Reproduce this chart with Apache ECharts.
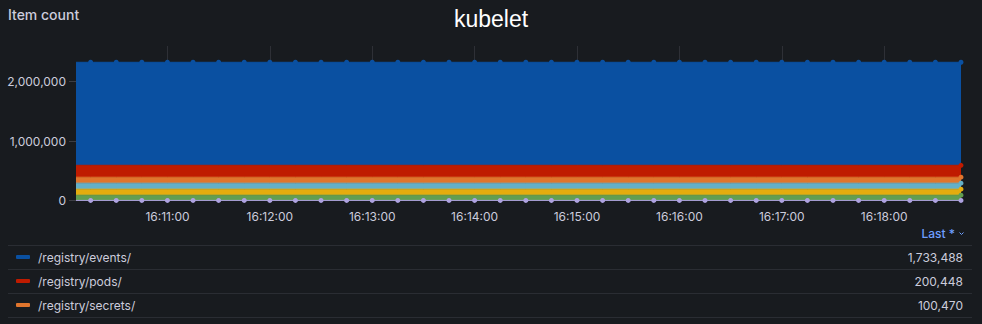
<!DOCTYPE html>
<html>
<head>
<meta charset="utf-8">
<script src="https://cdn.jsdelivr.net/npm/echarts@6/dist/echarts.min.js"></script>
<style>
  html, body { margin: 0; padding: 0; background: #181b1f; }
  #chart { width: 982px; height: 324px; }
</style>
</head>
<body>
<div id="chart"></div>
<script>
// ---- data ----
const DAY = '2024-01-01 ';
const times = ['16:10:00','16:10:15','16:10:30','16:10:45','16:11:00','16:11:15','16:11:30','16:11:45',
  '16:12:00','16:12:15','16:12:30','16:12:45','16:13:00','16:13:15','16:13:30','16:13:45',
  '16:14:00','16:14:15','16:14:30','16:14:45','16:15:00','16:15:15','16:15:30','16:15:45',
  '16:16:00','16:16:15','16:16:30','16:16:45','16:17:00','16:17:15','16:17:30','16:17:45',
  '16:18:00','16:18:15','16:18:30','16:18:45'];
const minuteTicks = ['16:11:00','16:12:00','16:13:00','16:14:00','16:15:00','16:16:00','16:17:00','16:18:00'];

const seriesNames = ['other-a', 'other-b', 'other-c', 'other-d', '/registry/secrets/', '/registry/pods/', '/registry/events/'];
const seriesColors = ['#AEA2E0', '#629E51', '#E5AC0E', '#64B0C8', '#E0752D', '#BF1B00', '#0A50A1'];

const otherA = [1500,1500,1500,1500,1500,1500,1500,1500,1500,1500,1500,1500,1500,1500,1500,1500,1500,1500,
  1500,1500,1500,1500,1500,1500,1500,1500,1500,1500,1500,1500,1500,1500,1500,1500,1500,1500];
const otherB = [88000,88000,88000,88000,88000,88000,88000,88000,88000,88000,88000,88000,88000,88000,88000,88000,88000,88000,
  88000,88000,88000,88000,88000,88000,88000,88000,88000,88000,88000,88000,88000,88000,88000,88000,88000,88000];
const otherC = [101000,101000,101000,101000,101000,101000,101000,101000,101000,101000,101000,101000,101000,101000,101000,101000,101000,101000,
  101000,101000,101000,101000,101000,101000,101000,101000,101000,101000,101000,101000,101000,101000,101000,101000,101000,101000];
const otherD = [101000,101000,101000,101000,101000,101000,101000,101000,101000,101000,101000,101000,101000,101000,101000,101000,101000,101000,
  101000,101000,101000,101000,101000,101000,101000,101000,101000,101000,101000,101000,101000,101000,101000,101000,101000,101000];
const secrets = [100470,100470,100470,100470,100470,100470,100470,100470,100470,100470,100470,100470,100470,100470,100470,100470,100470,100470,
  100470,100470,100470,100470,100470,100470,100470,100470,100470,100470,100470,100470,100470,100470,100470,100470,100470,100470];
const pods = [200448,200448,200448,200448,200448,200448,200448,200448,200448,200448,200448,200448,200448,200448,200448,200448,200448,200448,
  200448,200448,200448,200448,200448,200448,200448,200448,200448,200448,200448,200448,200448,200448,200448,200448,200448,200448];
const events = [1733488,1733488,1733488,1733488,1733488,1733488,1733488,1733488,1733488,1733488,1733488,1733488,1733488,1733488,1733488,1733488,1733488,1733488,
  1733488,1733488,1733488,1733488,1733488,1733488,1733488,1733488,1733488,1733488,1733488,1733488,1733488,1733488,1733488,1733488,1733488,1733488];

const seriesValues = [otherA, otherB, otherC, otherD, secrets, pods, events];
const legendNames = ['/registry/events/', '/registry/pods/', '/registry/secrets/'];
const yTicks = [0, 1000000, 2000000];

// ---- chart ----
const chart = echarts.init(document.getElementById('chart'), null, { renderer: 'svg' });
const fmt = v => Number(v).toLocaleString('en-US');
const lastOf = name => { const i = seriesNames.indexOf(name); const a = seriesValues[i]; return a[a.length - 1]; };
const FONT = 'Inter, "Noto Sans", sans-serif';

const series = seriesValues.map((vals, si) => {
  const allDots = si === 0 || si === seriesValues.length - 1;
  return {
    name: seriesNames[si],
    type: 'line',
    stack: 'total',
    z: 3,
    symbol: 'circle',
    symbolSize: 5,
    showAllSymbol: true,
    color: seriesColors[si],
    itemStyle: { color: seriesColors[si] },
    lineStyle: { width: 1, color: seriesColors[si] },
    areaStyle: { color: seriesColors[si], opacity: 1 },
    emphasis: { disabled: true },
    silent: true,
    data: vals.map((v, i) => ({
      value: [DAY + times[i], v],
      symbol: (allDots || i === vals.length - 1) ? 'circle' : 'none'
    }))
  };
});

// minute grid lines, drawn beneath the areas
series.unshift({
  name: 'grid-minutes',
  type: 'line',
  z: 1,
  silent: true,
  data: [],
  markLine: {
    z: 1,
    silent: true,
    symbol: ['none', 'none'],
    label: { show: false },
    lineStyle: { color: 'rgba(204,204,220,0.12)', width: 1, type: 'solid' },
    data: minuteTicks.map(t => ({ xAxis: DAY + t }))
  }
});

chart.setOption({
  backgroundColor: '#181b1f',
  animation: false,
  title: [
    { text: 'Item count', left: 8, top: 7, padding: 0, textStyle: { fontSize: 14, fontWeight: 500, color: '#ccccdc', fontFamily: FONT } },
    { text: 'kubelet', left: 'center', top: 7, padding: 0, textStyle: { fontSize: 23, fontWeight: 'normal', color: '#ffffff', fontFamily: '"Liberation Sans", Arial, sans-serif' } }
  ],
  grid: { left: 77, right: 21, top: 46, bottom: 123.5, containLabel: false },
  xAxis: {
    type: 'time',
    min: DAY + '16:10:07.5',
    max: DAY + times[times.length - 1],
    minInterval: 60000,
    maxInterval: 60000,
    axisLine: { show: false },
    axisTick: { show: false },
    splitLine: { show: false },
    axisLabel: {
      color: '#ccccdc', fontSize: 12, fontFamily: FONT, margin: 10,
      showMinLabel: false, showMaxLabel: false,
      formatter: '{HH}:{mm}:{ss}'
    }
  },
  yAxis: {
    type: 'value',
    min: yTicks[0],
    max: 2600000,
    interval: yTicks[1] - yTicks[0],
    axisLine: { show: false },
    axisTick: { show: true, length: 8, lineStyle: { color: 'rgba(204,204,220,0.2)' } },
    splitLine: { show: false },
    axisLabel: {
      color: '#ccccdc', fontSize: 12, fontFamily: FONT, margin: 11,
      showMaxLabel: false,
      formatter: v => fmt(v)
    }
  },
  legend: {
    data: legendNames,
    orient: 'vertical',
    left: 16,
    top: 251,
    padding: 0,
    itemWidth: 14,
    itemHeight: 4,
    itemGap: 12,
    icon: 'roundRect',
    selectedMode: false,
    formatter: name => `{n|${name}}{v|${fmt(lastOf(name))}}`,
    textStyle: {
      color: '#ccccdc', fontFamily: FONT, fontSize: 12,
      rich: {
        n: { width: 860, color: '#ccccdc', fontSize: 12, fontFamily: FONT, lineHeight: 14, padding: [0, 0, 0, 3] },
        v: { width: 65, align: 'right', color: '#ccccdc', fontSize: 12, fontFamily: FONT, lineHeight: 14 }
      }
    }
  },
  graphic: [
    { type: 'line', shape: { x1: 8, y1: 245.5, x2: 972, y2: 245.5 }, style: { stroke: '#2a2d33', lineWidth: 1 }, silent: true },
    { type: 'line', shape: { x1: 8, y1: 269.5, x2: 972, y2: 269.5 }, style: { stroke: '#2a2d33', lineWidth: 1 }, silent: true },
    { type: 'line', shape: { x1: 8, y1: 293.5, x2: 972, y2: 293.5 }, style: { stroke: '#2a2d33', lineWidth: 1 }, silent: true },
    { type: 'line', shape: { x1: 8, y1: 317.5, x2: 972, y2: 317.5 }, style: { stroke: '#2a2d33', lineWidth: 1 }, silent: true },
    { type: 'text', x: 955, y: 233, silent: true,
      style: { text: 'Last *', fill: '#6e9fff', font: '500 12px ' + FONT, textAlign: 'right', textVerticalAlign: 'middle' } },
    { type: 'polyline', silent: true, shape: { points: [[959.5, 232.5], [961.5, 234.5], [963.5, 232.5]] },
      style: { stroke: '#6e9fff', lineWidth: 1, fill: null } }
  ],
  series: series
});
</script>
</body>
</html>
